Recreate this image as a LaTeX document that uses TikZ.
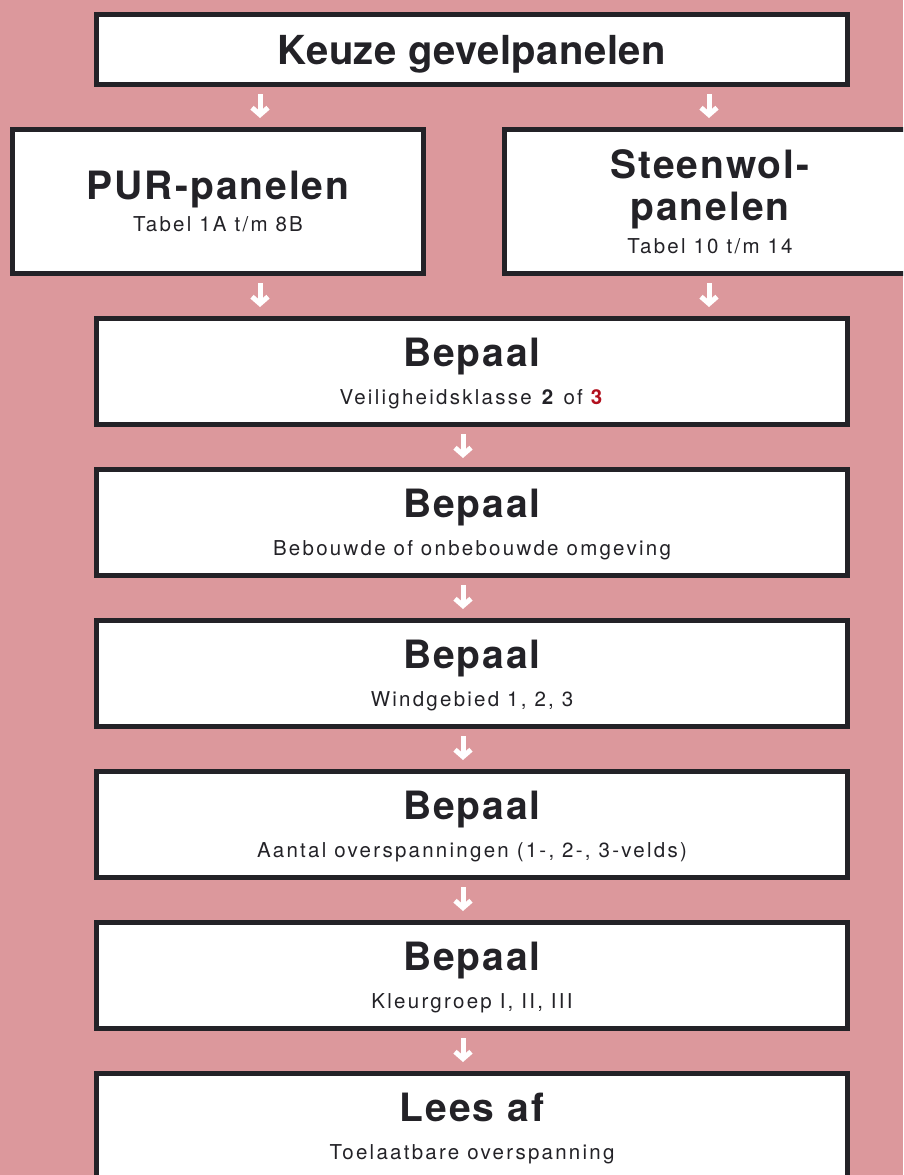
\documentclass[tikz,border=0pt]{standalone}
\usepackage{fontspec}
\setmainfont{TeX Gyre Heros}
\newfontfamily\kopfamily[LetterSpace=5]{TeX Gyre Heros}
\newfontfamily\keuzefamily[LetterSpace=1.2]{TeX Gyre Heros}
\newfontfamily\subfamily[LetterSpace=11]{TeX Gyre Heros}
\usetikzlibrary{arrows.meta}
\definecolor{bgpink}{RGB}{220,152,156}
\definecolor{boxline}{RGB}{35,34,39}
\definecolor{klasrood}{RGB}{178,16,30}
\newcommand{\kop}{\kopfamily\bfseries\fontsize{39}{42}\selectfont}
\newcommand{\subtxt}[1]{\subfamily\fontsize{20.5}{#1}\selectfont}
\tikzset{
  panelbox/.style={draw=boxline, line width=5pt, fill=white, inner sep=0pt,
    align=center, text=boxline, text depth=0pt},
  stepbox/.style={panelbox, minimum width=751pt, minimum height=106pt,
    font={\subtxt{38}}},
  halfbox/.style={panelbox, minimum width=411pt, minimum height=144pt},
  flowarrow/.style={white, line width=5pt,
    -{Straight Barb[length=7pt,width=16pt,line join=miter,line cap=butt]},
    shorten <=7pt, shorten >=9pt}
}
\begin{document}
\begin{tikzpicture}[x=1pt, y=-1pt]
    \useasboundingbox (0,0) rectangle (903,1175);
    \clip (0,0) rectangle (903,1175);
    \fill[bgpink] (0,0) rectangle (903,1175);
    % top and the two panel types
    \node[panelbox, minimum width=751pt, minimum height=70pt, font=\keuzefamily\bfseries\fontsize{40}{42}\selectfont] (keuze) at (472,49.5) {Keuze gevelpanelen};
    \node[halfbox, font={\subtxt{32}}] (pur) at (218,201.5) {{\kop PUR-panelen}\\Tabel 1A t/m 8B};
    \node[halfbox, font={\subtxt{42}}] (steenwol) at (710,201.5) {{\kop Steenwol-}\\{\kop panelen}\\[-9pt]Tabel 10 t/m 14};
    % steps
    \node[stepbox] (stap1) at (472,371.5) {{\kop Bepaal}\\Veiligheidsklasse \textbf{2} of \textcolor{klasrood}{\textbf{3}}};
    \node[stepbox] (stap2) at (472,522.5) {{\kop Bepaal}\\Bebouwde of onbebouwde omgeving};
    \node[stepbox] (stap3) at (472,673.5) {{\kop Bepaal}\\Windgebied 1, 2, 3};
    \node[stepbox] (stap4) at (472,824.5) {{\kop Bepaal}\\Aantal overspanningen (1-, 2-, 3-velds)};
    \node[stepbox] (stap5) at (472,975.5) {{\kop Bepaal}\\Kleurgroep I, II, III};
    \node[stepbox] (stap6) at (472,1126.5) {{\kop Lees af}\\Toelaatbare overspanning};
    % arrows
    \draw[flowarrow] ([xshift=-212pt]keuze.south) -- ([xshift=42pt]pur.north);
    \draw[flowarrow] ([xshift=237pt]keuze.south) -- ([xshift=-1pt]steenwol.north);
    \draw[flowarrow] ([xshift=42pt]pur.south) -- ([xshift=-212pt]stap1.north);
    \draw[flowarrow] ([xshift=-1pt]steenwol.south) -- ([xshift=237pt]stap1.north);
    \foreach \a/\b in {stap1/stap2, stap2/stap3, stap3/stap4, stap4/stap5, stap5/stap6}
        \draw[flowarrow] ([xshift=-9pt]\a.south) -- ([xshift=-9pt]\b.north);
\end{tikzpicture}
\end{document}
